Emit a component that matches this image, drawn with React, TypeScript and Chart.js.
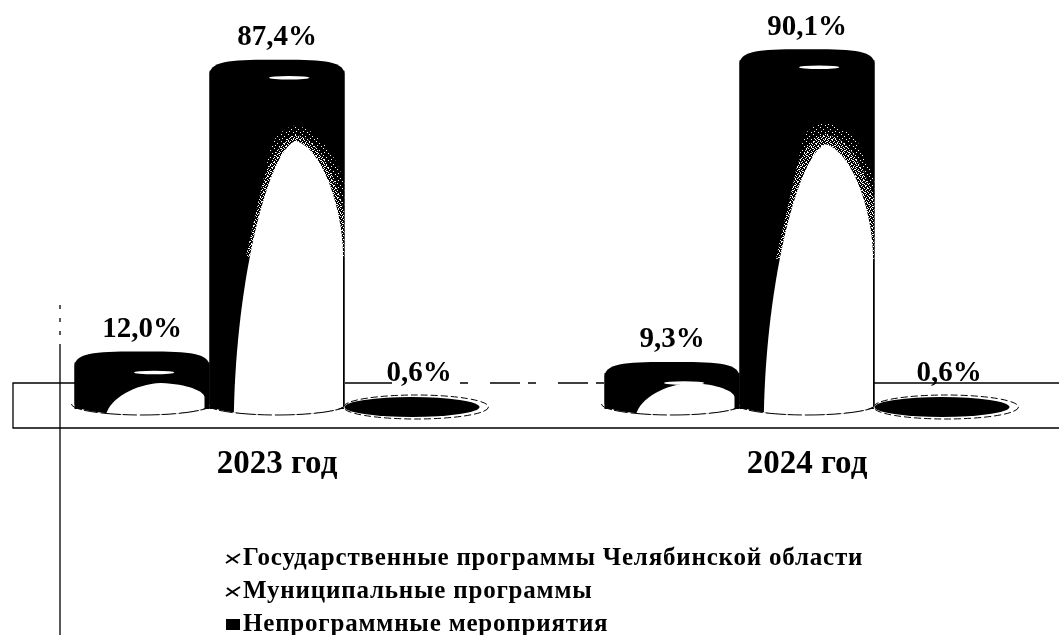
import React, { useEffect, useRef } from "react";
import { Chart, registerables } from "chart.js";

Chart.register(...registerables);

const categories = ["2023 год", "2024 год"];
const stateLabel = "Государственные программы Челябинской области";
const muniLabel = "Муниципальные программы";
const nonProgLabel = "Непрограммные мероприятия";
const stateValues = [12.0, 9.3];
const muniValues = [87.4, 90.1];
const nonProgValues = [0.6, 0.6];

const SERIF = "'Liberation Serif', serif";
const RY = 11;

function makePattern(ctx: CanvasRenderingContext2D, size: number, dots: number[][]) {
  const c = document.createElement("canvas");
  c.width = size;
  c.height = size;
  const p = c.getContext("2d")!;
  p.fillStyle = "#fff";
  dots.forEach(([x, y]) => p.fillRect(x, y, 1, 1));
  return ctx.createPattern(c, "repeat")!;
}

const cylinderPlugin = {
  id: "cylinders",
  beforeDatasetsDraw(chart: any) {
    const { ctx, scales } = chart;
    const y0 = scales.y.getPixelForValue(0);
    ctx.save();
    ctx.strokeStyle = "#000";
    ctx.lineWidth = 1.3;
    const back = y0 - 26;
    const front = y0 + 19;
    ctx.beginPath();
    ctx.moveTo(1059, back);
    ctx.lineTo(874, back);
    ctx.moveTo(345, back);
    ctx.lineTo(392, back);
    ctx.moveTo(75, back);
    ctx.lineTo(13, back);
    ctx.lineTo(13, front);
    ctx.lineTo(1059, front);
    ctx.moveTo(60, 345);
    ctx.lineTo(60, 635);
    ctx.stroke();
    ctx.setLineDash([8, 22, 30, 8]);
    ctx.beginPath();
    ctx.moveTo(460, back);
    ctx.lineTo(606, back);
    ctx.stroke();
    ctx.setLineDash([4, 9]);
    ctx.beginPath();
    ctx.moveTo(60, 305);
    ctx.lineTo(60, 345);
    ctx.stroke();
    ctx.restore();
  },
  afterDatasetsDraw(chart: any) {
    const { ctx, scales } = chart;
    const y0 = scales.y.getPixelForValue(0);
    const baseY = y0 - 5;
    const dense = makePattern(ctx, 4, [[0, 0], [2, 1], [1, 2], [3, 3]]);
    const sparse = makePattern(ctx, 7, [[1, 1], [4, 3], [2, 5], [6, 6]]);
    chart.data.datasets.forEach((ds: any, di: number) => {
      chart.getDatasetMeta(di).data.forEach((bar: any, i: number) => {
        const v = ds.data[i];
        const w = bar.width;
        const l = bar.x - w / 2;
        const r = bar.x + w / 2;
        const topY = bar.y;
        const h = baseY - topY;
        ctx.save();
        if (h < 12) {
          ctx.strokeStyle = "#000";
          ctx.lineWidth = 1;
          ctx.setLineDash([7, 3]);
          ctx.fillStyle = "#fff";
          ctx.beginPath();
          ctx.ellipse(bar.x + 4, y0 - 2, w / 2 + 5, RY + 1, 0, 0, Math.PI * 2);
          ctx.fill();
          ctx.stroke();
          ctx.setLineDash([]);
          ctx.fillStyle = "#000";
          ctx.beginPath();
          ctx.ellipse(bar.x, y0 - 2, w / 2, RY - 1, 0, 0, Math.PI * 2);
          ctx.fill();
        } else {
          const crown = topY - RY;
          const shape = () => {
            ctx.beginPath();
            ctx.moveTo(l, topY + 3);
            ctx.bezierCurveTo(l + 0.01 * w, crown, l + 0.2 * w, crown, bar.x, crown);
            ctx.bezierCurveTo(r - 0.2 * w, crown, r - 0.01 * w, crown, r, topY + 3);
            ctx.lineTo(r, baseY);
            ctx.ellipse(bar.x, baseY, w / 2, RY, 0, 0, Math.PI);
            ctx.closePath();
          };
          ctx.fillStyle = "#000";
          shape();
          ctx.fill();
          ctx.save();
          shape();
          ctx.clip();
          const tall = h > 100;
          const apexY = tall ? topY + (i === 1 ? 84 : 70) : baseY - 21;
          const bottom = baseY + RY + 2;
          const H = bottom - apexY;
          const ax = l + 0.64 * w;
          const lx = l + (tall ? 0.18 : 0.23) * w;
          const rx = tall ? r - 1.5 : r - 5;
          const cone = () => {
            ctx.beginPath();
            ctx.moveTo(lx, bottom);
            ctx.bezierCurveTo(lx + 2, apexY + 0.5 * H, ax - 0.2 * w, apexY + 0.03 * H, ax, apexY);
            ctx.bezierCurveTo(ax + 0.2 * w, apexY + 0.03 * H, rx, apexY + 0.25 * H, rx, apexY + 0.42 * H);
            ctx.lineTo(rx, bottom);
            ctx.closePath();
          };
          ctx.fillStyle = "#fff";
          cone();
          ctx.fill();
          if (tall) {
            const fringe = apexY + 0.42 * H;
            ctx.save();
            ctx.beginPath();
            ctx.moveTo(ax - 0.12 * w, apexY - 34);
            ctx.lineTo(ax + 0.12 * w, apexY - 34);
            ctx.lineTo(r, apexY + 0.12 * H);
            ctx.lineTo(r, fringe);
            ctx.lineTo(lx + 0.09 * w, fringe);
            ctx.closePath();
            ctx.clip();
            cone();
            ctx.strokeStyle = dense;
            ctx.lineWidth = i === 1 ? 20 : 12;
            ctx.stroke();
            ctx.strokeStyle = sparse;
            ctx.lineWidth = i === 1 ? 42 : 30;
            ctx.stroke();
            ctx.restore();
          }
          ctx.restore();
          ctx.fillStyle = "#fff";
          ctx.beginPath();
          ctx.ellipse(l + 0.59 * w, topY + (tall ? 7 : 10), 0.15 * w, 1.8, 0, 0, Math.PI * 2);
          ctx.fill();
          ctx.strokeStyle = "#000";
          ctx.lineWidth = 1;
          ctx.setLineDash([14, 2, 20, 3]);
          ctx.beginPath();
          ctx.ellipse(bar.x, baseY, w / 2 + 3, RY, 0, 0, Math.PI);
          ctx.stroke();
        }
        const labelX = h < 12 ? bar.x + 7 : bar.x;
        const labelText = v.toFixed(1).replace(".", ",") + "%";
        ctx.setLineDash([]);
        ctx.fillStyle = "#000";
        ctx.font = `bold 29px ${SERIF}`;
        ctx.textAlign = "center";
        ctx.textBaseline = "middle";
        ctx.fillText(labelText, labelX, topY - RY - 22);
        ctx.restore();
      });
    });
    const lines = chart.data.datasets.map((d: any) => d.label);
    const ys = [559, 592, 625];
    ctx.save();
    ctx.font = `bold 25px ${SERIF}`;
    (ctx as any).letterSpacing = "0.8px";
    ctx.textBaseline = "middle";
    lines.forEach((t: string, i: number) => {
      const my = ys[i] - 6;
      if (i !== 2) {
        ctx.strokeStyle = "#000";
        ctx.lineWidth = 2;
        ctx.beginPath();
        ctx.moveTo(226, my + 10);
        ctx.lineTo(240, my + 1);
        ctx.moveTo(227, my + 2);
        ctx.lineTo(238, my + 10);
        ctx.stroke();
      } else {
        ctx.fillStyle = "#000";
        ctx.fillRect(226, my, 14, 11);
      }
      ctx.fillStyle = "#000";
      ctx.fillText(t, 243, ys[i]);
    });
    ctx.restore();
  },
};

export default function App() {
  const ref = useRef<HTMLCanvasElement>(null);
  useEffect(() => {
    const chart = new Chart(ref.current!, {
      type: "bar",
      data: {
        labels: categories,
        datasets: [
          { label: stateLabel, data: stateValues, backgroundColor: "#000" },
          { label: muniLabel, data: muniValues, backgroundColor: "#000" },
          { label: nonProgLabel, data: nonProgValues, backgroundColor: "rgba(0,0,0,0)" },
        ],
      },
      options: {
        responsive: false,
        animation: false,
        layout: { padding: { left: 12, right: 28, top: 22, bottom: 0 } },
        datasets: { bar: { categoryPercentage: 405 / 530, barPercentage: 1 } },
        plugins: { legend: { display: false }, tooltip: { enabled: false } },
        scales: {
          x: {
            grid: { display: false, drawTicks: false },
            border: { display: false },
            ticks: { color: "#000", padding: 36, font: { family: SERIF, size: 33, weight: "bold" } },
            afterFit: (s: any) => {
              s.height = 226;
            },
          },
          y: { display: false, min: 0, max: 100 },
        },
      },
      plugins: [cylinderPlugin],
    } as any);
    return () => chart.destroy();
  }, []);
  return (
    <div style={{ position: "fixed", left: 0, top: 0, width: 1059, height: 635, overflow: "hidden", background: "#fff" }}>
      <canvas ref={ref} width={1100} height={635} style={{ display: "block" }} />
    </div>
  );
}
